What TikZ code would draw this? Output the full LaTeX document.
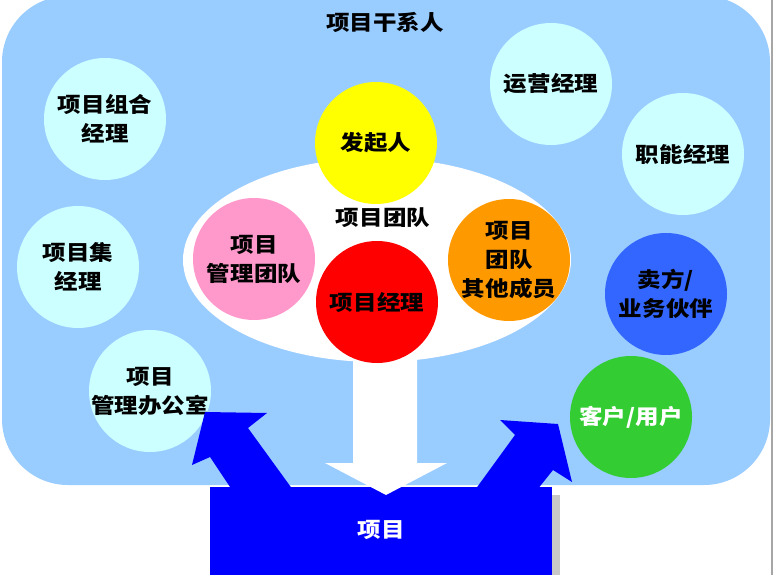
\documentclass[tikz,border=0pt]{standalone}
\usepackage{fontspec}
\setmainfont{Noto Sans CJK SC}[FakeStretch=1.12]
\usetikzlibrary{shapes.geometric}
\definecolor{bgblue}{HTML}{99CCFF}
\definecolor{lcyan}{HTML}{CCFFFF}
\definecolor{pblue}{HTML}{0000FF}
\definecolor{cyellow}{HTML}{FFFF00}
\definecolor{cpink}{HTML}{FF99CC}
\definecolor{cred}{HTML}{FF0000}
\definecolor{corange}{HTML}{FF9900}
\definecolor{cseller}{HTML}{3366FF}
\definecolor{cgreen}{HTML}{33CC33}
\definecolor{shadowgray}{HTML}{C8C8C8}
\begin{document}
\begin{tikzpicture}[x=1pt,y=-1pt,
  bub/.style={circle,minimum size=122pt,inner sep=0pt},
  txt/.style={align=center,font=\fontsize{21}{29}\selectfont\bfseries,text=black,inner sep=0pt},
  wtxt/.style={txt,text=white}]
\useasboundingbox (0,0) rectangle (782,575);
\fill[white] (0,0) rectangle (782,575);
% background stakeholder area
\fill[bgblue,rounded corners=66pt] (2,-4) rectangle (770,485);
\node[txt] (title) at (385,22) {项目干系人};
% project team ellipse
\node[ellipse,fill=white,minimum width=388pt,minimum height=204pt,inner sep=0pt] (team) at (377,260) {};
% project box
\fill[shadowgray] (552,495) rectangle (560,575);
\node[fill=pblue,minimum width=342pt,minimum height=95pt,inner sep=0pt,anchor=north west] (proj) at (210,487) {};
\node[wtxt] at (381,530) {项目};
% white down arrow
\coordinate (wa1) at (353,345);
\coordinate (wa2) at (417,345);
\fill[white] (wa1) -- (353,463) -- (325,463) -- (386,495) -- (447,463) -- (417,463) -- (wa2) -- cycle;
% outer circles
\node[bub,fill=lcyan] (port) at (105,119) {};
\node[txt] at (port) {项目组合\\经理};
\node[bub,fill=lcyan] (prog) at (78,267) {};
\node[txt] at (prog) {项目集\\经理};
\node[bub,fill=lcyan] (pmo) at (150,391) {};
\node[txt] at (pmo) {项目\\管理办公室};
\node[bub,fill=lcyan] (ops) at (551,84) {};
\node[txt] at (ops) {运营经理};
\node[bub,fill=lcyan] (func) at (683,154) {};
\node[txt] at (func) {职能经理};
\node[bub,fill=cseller] (seller) at (666,294) {};
\node[txt] at (seller) {卖方/\\业务伙伴};
\node[bub,fill=cgreen] (cust) at (631,417) {};
\node[wtxt] at (cust) {客户/用户};
% team circles
\node[bub,fill=cyellow] (spons) at (376,143) {};
\node[txt] at (spons) {发起人};
\node[txt] (teamlbl) at (383,218) {项目团队};
\node[bub,fill=cpink] (pmt) at (254,259) {};
\node[txt] at (pmt) {项目\\管理团队};
\node[bub,fill=corange] (other) at (509,260) {};
\node[txt] at (other) {项目\\团队\\其他成员};
\node[bub,fill=cred] (pm) at (377,302) {};
\node[txt] at (pm) {项目经理};
% blue arrows from project box
\fill[pblue] (232,490) -- (210,457) -- (192,465) -- (205,412) -- (267,413) -- (248,428) -- (293,490) -- cycle;
\fill[pblue] (475,490) -- (515,435) -- (500,420) -- (558,424) -- (572,482) -- (553,470) -- (537,490) -- cycle;
% right frame line
\draw[gray!70,line width=1.5pt] (772,0) -- (772,575);
\end{tikzpicture}
\end{document}
